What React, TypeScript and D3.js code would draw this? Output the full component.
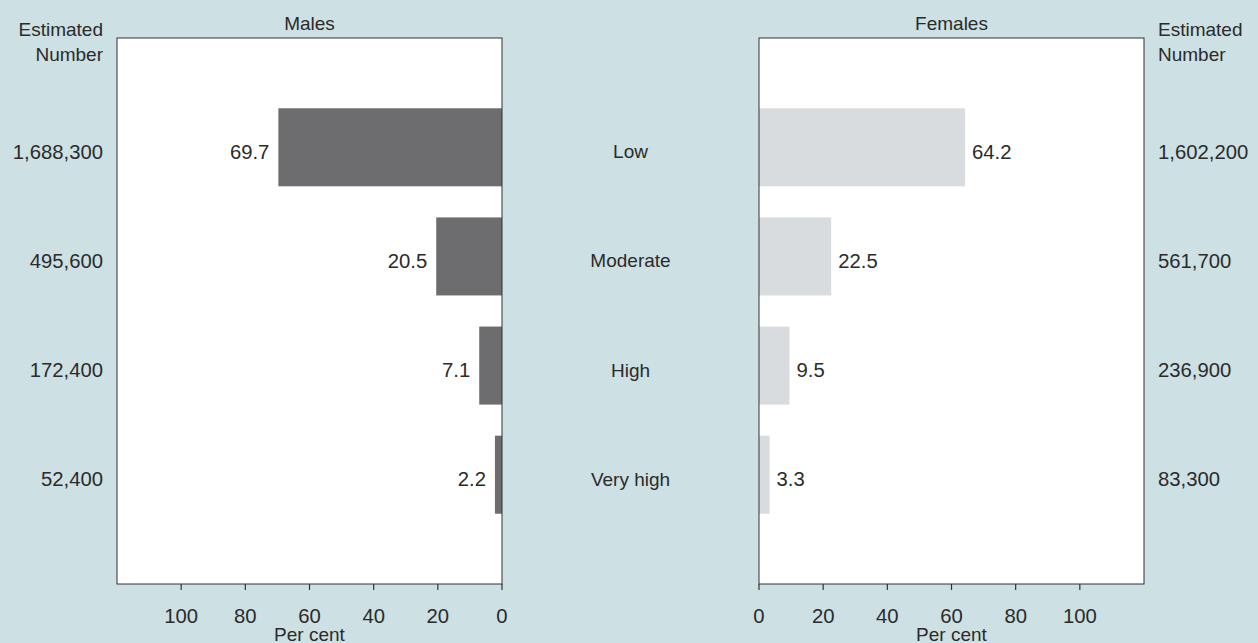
import React from "react";
import * as d3 from "d3";

const categories = ["Low", "Moderate", "High", "Very high"];
const malePct = [69.7, 20.5, 7.1, 2.2];
const femalePct = [64.2, 22.5, 9.5, 3.3];
const maleNumbers = ["1,688,300", "495,600", "172,400", "52,400"];
const femaleNumbers = ["1,602,200", "561,700", "236,900", "83,300"];
const tickValues = [0, 20, 40, 60, 80, 100];

const W = 1258;
const H = 643;
const BG = "#cde0e3";
const TEXT = "#2b2b2b";
const FONT = "'Liberation Sans', Arial, sans-serif";
const FS = 19;
const FN = 20.3;

export default function App() {
  const top = 38;
  const bottom = 584;
  const y = d3
    .scaleBand<string>()
    .domain(categories)
    .range([top, bottom])
    .paddingInner(0.285)
    .paddingOuter(0.644);
  const xL = d3.scaleLinear().domain([0, 120]).range([502, 117]);
  const xR = d3.scaleLinear().domain([0, 120]).range([759, 1144]);
  const midX = (502 + 759) / 2;
  const textShift = 4.3;

  const panel = (
    x: d3.ScaleLinear<number, number>,
    vals: number[],
    color: string,
    left: boolean,
    title: string
  ) => {
    const x0 = Math.min(x(0), x(120));
    const x1 = Math.max(x(0), x(120));
    return (
      <g>
        <rect x={x0} y={top} width={x1 - x0} height={bottom - top} fill="#ffffff" />
        {vals.map((v, i) => {
          const bx = Math.min(x(0), x(v));
          const bw = Math.abs(x(v) - x(0));
          const cy = (y(categories[i]) as number) + y.bandwidth() / 2 + textShift;
          return (
            <g key={i}>
              <rect x={bx} y={y(categories[i])} width={bw} height={y.bandwidth()} fill={color} />
              <text
                x={left ? x(v) - 9 : x(v) + 7}
                y={cy}
                dy="0.35em"
                textAnchor={left ? "end" : "start"}
                fontSize={FN}
                fill={TEXT}
              >
                {v.toFixed(1)}
              </text>
            </g>
          );
        })}
        <rect
          x={x0}
          y={top}
          width={x1 - x0}
          height={bottom - top}
          fill="none"
          stroke="#333"
          strokeWidth={1}
        />
        {tickValues.map((t) => (
          <g key={t}>
            <line x1={x(t)} x2={x(t)} y1={bottom} y2={bottom + 6} stroke="#333" strokeWidth={1.2} />
            <text x={x(t)} y={615.5} dy="0.35em" textAnchor="middle" fontSize={FN} fill={TEXT}>
              {t}
            </text>
          </g>
        ))}
        <text x={(x0 + x1) / 2} y={634.5} dy="0.35em" textAnchor="middle" fontSize={FS} fill={TEXT}>
          Per cent
        </text>
        <text x={(x0 + x1) / 2} y={23} dy="0.35em" textAnchor="middle" fontSize={FS} fill={TEXT}>
          {title}
        </text>
      </g>
    );
  };

  return (
    <svg
      width={W}
      height={H}
      style={{ position: "absolute", left: 0, top: 0, fontFamily: FONT }}
    >
      <rect x={0} y={0} width={W} height={H} fill={BG} />
      {panel(xL, malePct, "#6d6d6f", true, "Males")}
      {panel(xR, femalePct, "#d9dcde", false, "Females")}
      <text x={103} y={29.5} dy="0.35em" textAnchor="end" fontSize={FS} fill={TEXT}>
        Estimated
      </text>
      <text x={103} y={54.5} dy="0.35em" textAnchor="end" fontSize={FS} fill={TEXT}>
        Number
      </text>
      <text x={1158} y={29.5} dy="0.35em" textAnchor="start" fontSize={FS} fill={TEXT}>
        Estimated
      </text>
      <text x={1158} y={54.5} dy="0.35em" textAnchor="start" fontSize={FS} fill={TEXT}>
        Number
      </text>
      {categories.map((c, i) => {
        const cy = (y(c) as number) + y.bandwidth() / 2 + textShift;
        return (
          <g key={c}>
            <text x={midX} y={cy} dy="0.35em" textAnchor="middle" fontSize={FS} fill={TEXT}>
              {c}
            </text>
            <text x={103} y={cy} dy="0.35em" textAnchor="end" fontSize={FN} fill={TEXT}>
              {maleNumbers[i]}
            </text>
            <text x={1158} y={cy} dy="0.35em" textAnchor="start" fontSize={FN} fill={TEXT}>
              {femaleNumbers[i]}
            </text>
          </g>
        );
      })}
    </svg>
  );
}
